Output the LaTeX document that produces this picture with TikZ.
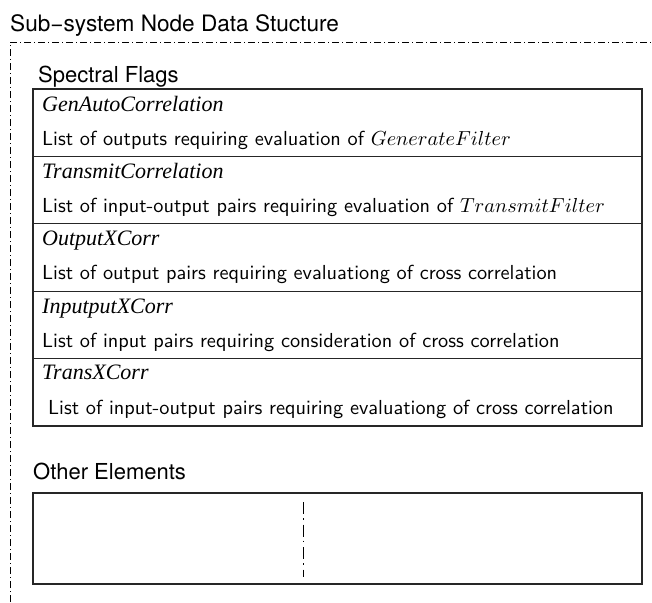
\documentclass[tikz,border=0pt]{standalone}
\usepackage{fontspec}
\usepackage{graphicx}
\newfontfamily\helvfont{TeX Gyre Heros}
\newfontfamily\termsfont{Liberation Serif}
\newcommand{\descline}[1]{\scalebox{2.03}{\sffamily\fontsize{10}{12}\selectfont #1}}
\begin{document}
\begin{tikzpicture}[x=1pt,y=-1pt,
  heading/.style={anchor=base west,inner sep=0pt,font=\helvfont\fontsize{22}{26}\selectfont},
  flagname/.style={anchor=base west,inner sep=0pt,font=\termsfont\itshape\fontsize{22}{26}\selectfont},
  flagdesc/.style={anchor=base west,inner sep=0pt},
  boxline/.style={draw=black!85,line width=1.1pt},
  outerframe/.style={line width=0.8pt,dash pattern=on 7pt off 3pt on 1pt off 3pt},
  innerdiv/.style={line width=0.8pt,dash pattern=on 12pt off 4pt on 1.5pt off 5pt}]
\useasboundingbox (0,0) rectangle (652,602);
\fill[white] (0,0) rectangle (652,602);

% title and outer dash-dot frame
\node[heading,font=\helvfont\fontsize{22.6}{26}\selectfont] (title) at (10,31) {Sub−system Node Data Stucture};
\coordinate (frameBL) at (10,602);
\coordinate (frameTL) at (10,42);
\coordinate (frameTR) at (652,42);
\draw[outerframe] (frameBL) -- (frameTL) -- (frameTR);

% spectral flags table
\node[heading] (spectral) at (38,82) {Spectral Flags};
\coordinate (tabTL) at (33,89);
\coordinate (tabBR) at (642,426);
\draw[boxline] (tabTL) rectangle (tabBR);
\foreach \k in {1,2,3,4}{
  \draw[boxline] (33,{89+67.4*\k}) -- (642,{89+67.4*\k});
}

\node[flagname] (n1) at (42,{89+22}) {GenAutoCorrelation};
\node[flagdesc] (d1) at (42,{89+56}) {\descline{List of outputs requiring evaluation of $GenerateFilter$}};
\node[flagname] (n2) at (42,{156.4+22}) {TransmitCorrelation};
\node[flagdesc] (d2) at (42,{156.4+56}) {\descline{List of input-output pairs requiring evaluation of $TransmitFilter$}};
\node[flagname] (n3) at (42,{223.8+22}) {OutputXCorr};
\node[flagdesc] (d3) at (42,{223.8+56}) {\descline{List of output pairs requiring evaluationg of cross correlation}};
\node[flagname] (n4) at (42,{291.2+22}) {InputputXCorr};
\node[flagdesc] (d4) at (42,{291.2+56}) {\descline{List of input pairs requiring consideration of cross correlation}};
\node[flagname] (n5) at (42,{358.6+21}) {TransXCorr};
\node[flagdesc] (d5) at (48,{358.6+56}) {\descline{List of input-output pairs requiring evaluationg of cross correlation}};

% other elements box with its divider
\node[heading] (other) at (33,479) {Other Elements};
\coordinate (othTL) at (33,493);
\coordinate (othBR) at (642,584);
\draw[boxline] (othTL) rectangle (othBR);
\coordinate (divT) at (303,502);
\coordinate (divB) at (303,577);
\draw[innerdiv] (divT) -- (divB);
\end{tikzpicture}
\end{document}
